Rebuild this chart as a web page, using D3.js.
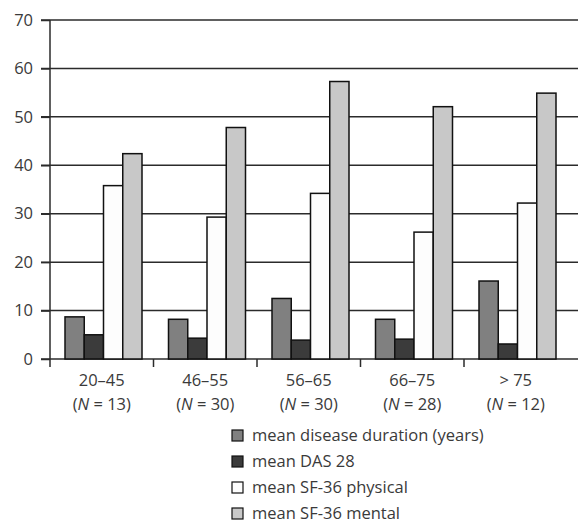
<!DOCTYPE html>
<html>
<head>
<meta charset="utf-8">
<script src="https://cdn.jsdelivr.net/npm/d3@7"></script>
<style>
  html, body { margin: 0; padding: 0; background: #fff; }
  svg { display: block; font-family: "Open Sans", sans-serif; }
</style>
</head>
<body>
<svg id="chart" width="578" height="524"></svg>
<script>
const categories = ["20–45", "46–55", "56–65", "66–75", "> 75"];
const groupN = ["13", "30", "30", "28", "12"];
const seriesNames = ["mean disease duration (years)", "mean DAS 28", "mean SF-36 physical", "mean SF-36 mental"];
const diseaseDuration = [8.7, 8.2, 12.5, 8.2, 16.1];
const das28 = [5.0, 4.3, 3.9, 4.1, 3.1];
const sf36Physical = [35.8, 29.3, 34.2, 26.2, 32.2];
const sf36Mental = [42.4, 47.8, 57.3, 52.1, 54.9];
const yTicks = [0, 10, 20, 30, 40, 50, 60, 70];
const colors = ["#808080", "#3b3b3b", "#fdfdfd", "#c8c8c8"];

const seriesValues = [diseaseDuration, das28, sf36Physical, sf36Mental];

const svg = d3.select("#chart");
const textColor = "#3a3a3a";
const lineColor = "#2b2b2b";

const x0 = d3.scaleBand().domain(categories).range([50, 567.5]);
const x1 = d3.scaleBand().domain(seriesNames).range([15, 92]);
const y = d3.scaleLinear().domain([0, 70]).range([359, 20]);

// gridlines
svg.append("g").selectAll("line").data(yTicks).join("line")
  .attr("x1", 41).attr("x2", 578)
  .attr("y1", d => y(d)).attr("y2", d => y(d))
  .attr("stroke", lineColor).attr("stroke-width", 1.5);

// y axis
const yAxis = svg.append("g").attr("transform", "translate(50,0)")
  .call(d3.axisLeft(y).tickValues(yTicks).tickSize(9).tickPadding(8));
yAxis.select(".domain").remove();
yAxis.selectAll(".tick line").attr("stroke", lineColor).attr("stroke-width", 1.5);
yAxis.selectAll(".tick text").attr("fill", textColor).style("font-size", "16.5px")
  .style("font-family", "'Open Sans', sans-serif");
svg.append("line").attr("x1", 50).attr("x2", 50).attr("y1", y(70)).attr("y2", 367)
  .attr("stroke", lineColor).attr("stroke-width", 1.5);

// x axis ticks at band boundaries
const bounds = categories.map(c => x0(c));
svg.append("g").selectAll("line").data(bounds.slice(1)).join("line")
  .attr("x1", d => d).attr("x2", d => d).attr("y1", 359).attr("y2", 367)
  .attr("stroke", lineColor).attr("stroke-width", 1.5);

// bars
const groups = svg.append("g").selectAll("g").data(categories).join("g")
  .attr("transform", c => `translate(${x0(c)},0)`);
groups.selectAll("rect").data((c, i) => seriesNames.map((s, j) => ({ s, j, v: seriesValues[j][i] })))
  .join("rect")
  .attr("x", d => x1(d.s))
  .attr("width", x1.bandwidth())
  .attr("y", d => y(d.v))
  .attr("height", d => y(0) - y(d.v))
  .attr("fill", d => colors[d.j])
  .attr("stroke", "#111").attr("stroke-width", 1.5);

// x labels
const xl = svg.append("g").selectAll("g").data(categories).join("g")
  .attr("transform", c => `translate(${x0(c) + x0.bandwidth() / 2},0)`)
  .attr("fill", textColor).style("font-size", "16.5px").attr("text-anchor", "middle");
xl.append("text").attr("y", 386).text(d => d);
xl.append("text").attr("y", 410).each(function (d, i) {
  const t = d3.select(this);
  t.append("tspan").text("(");
  t.append("tspan").style("font-style", "italic").text("N");
  t.append("tspan").text(" = " + groupN[i] + ")");
});

// legend
const leg = svg.append("g").selectAll("g").data(seriesNames).join("g")
  .attr("transform", (d, i) => `translate(232,${430 + i * 26})`);
leg.append("rect").attr("width", 11).attr("height", 11)
  .attr("fill", (d, i) => colors[i]).attr("stroke", "#111").attr("stroke-width", 1.2);
leg.append("text").attr("x", 20).attr("y", 11).attr("fill", textColor)
  .style("font-size", "16.5px").text(d => d);
</script>
</body>
</html>
